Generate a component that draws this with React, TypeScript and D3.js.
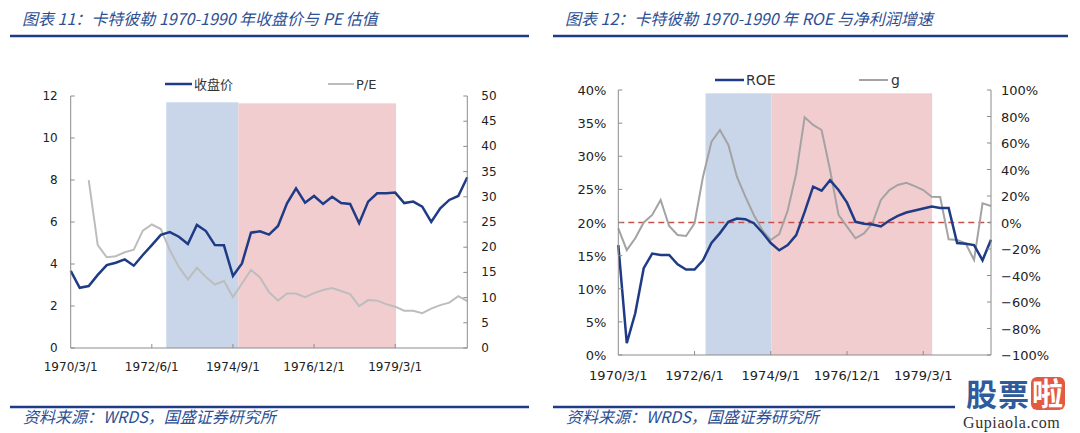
import React from 'react';
import * as d3 from 'd3';

// quarterly categories 1970/3/1 ... 1981/3/1
const quarters = d3.range(45).map(i => `${1970 + Math.floor(i / 4)}/${3 + 3 * (i % 4)}/1`);
const labelEvery = 9;

// 图表 11
const closePrice = [3.67, 2.87, 2.95, 3.48, 3.95, 4.06, 4.22, 3.92, 4.43, 4.9, 5.39, 5.52, 5.3, 4.95, 5.86, 5.57, 4.9, 4.89, 3.43, 4.03, 5.49, 5.56, 5.4, 5.81, 6.89, 7.6, 6.92, 7.24, 6.86, 7.2, 6.9, 6.86, 5.94, 6.97, 7.37, 7.37, 7.4, 6.9, 6.97, 6.73, 6.0, 6.65, 7.05, 7.24, 8.13];
const peRatio = [null, null, 33.3, 20.4, 18.0, 18.2, 19.0, 19.5, 23.3, 24.5, 23.6, 19.4, 16.1, 13.6, 15.9, 14.1, 12.6, 13.3, 10.1, 12.8, 15.5, 14.0, 11.1, 9.4, 10.8, 10.8, 10.1, 10.9, 11.5, 11.9, 11.3, 10.7, 8.3, 9.5, 9.4, 8.7, 8.2, 7.4, 7.4, 6.9, 7.8, 8.5, 9.0, 10.3, 9.3];
const priceTicks = [0, 2, 4, 6, 8, 10, 12];
const peTicks = [0, 5, 10, 15, 20, 25, 30, 35, 40, 45, 50];
// shaded periods: [from index, to index, top on left axis]
const bands1 = [
  { from: 10.6, to: 18.6, top: 11.7, color: 'blue' },
  { from: 18.6, to: 36.1, top: 11.65, color: 'pink' },
];

// 图表 12 (percent)
const roe = [16.6, 1.8, 6.3, 13.1, 15.3, 15.1, 15.1, 13.7, 12.9, 12.9, 14.3, 16.9, 18.4, 20.1, 20.6, 20.5, 19.9, 18.5, 16.9, 15.8, 16.6, 18.1, 21.6, 25.4, 24.8, 26.4, 24.9, 23.0, 20.1, 19.8, 19.7, 19.4, 20.3, 21.0, 21.5, 21.8, 22.1, 22.4, 22.2, 22.2, 16.9, 16.8, 16.6, 14.3, 17.4];
const growth = [-4.4, -20.8, -11.9, 0, 5.7, 17, -2.6, -9.4, -10.2, -0.6, 34.6, 61, 69.8, 58.5, 34.6, 19.5, 5.7, -5.7, -13.2, -8.7, 9, 37, 79.4, 73.6, 69.8, 39.6, 5.7, -3.1, -11.9, -8.2, -0.6, 17, 24.5, 28.3, 30, 27.5, 24.5, 19.5, 19.2, -12.7, -13.2, -15.7, -28.3, 14.5, 12.5];
const roeTicks = [0, 5, 10, 15, 20, 25, 30, 35, 40];
const growthTicks = [-100, -80, -60, -40, -20, 0, 20, 40, 60, 80, 100];
const roeRef = 20;
const bands2 = [
  { from: 10.3, to: 18.1, top: 39.5, color: 'blue' },
  { from: 18.1, to: 37.05, top: 39.5, color: 'pink' },
];

const NAVY = '#1f3b86';
const TITLE = '#2c4f94';
const AXIS = '#8c8c8c';
const bandFill = { blue: '#c9d6ea', pink: '#f2cdd0' };
const NUM_FONT = '"DejaVu Sans", Verdana, sans-serif';
const CJK_FONT = '"Noto Sans CJK SC", sans-serif';

function Header({ x0, x1, title }) {
  return (
    <g>
      <text x={x0 + 12} y={25} fontFamily={CJK_FONT} fontStyle="italic" fontSize={16} fill={TITLE}>{title}</text>
      <line x1={x0} x2={x1} y1={36} y2={36} stroke={NAVY} strokeWidth={2.5} />
      <line x1={x0} x2={x1} y1={407} y2={407} stroke={NAVY} strokeWidth={2.5} />
      <text x={x0 + 13} y={423} fontFamily={CJK_FONT} fontStyle="italic" fontSize={16} fill={TITLE}>资料来源：WRDS，国盛证券研究所</text>
    </g>
  );
}

function Chart1() {
  const x = d3.scaleLinear().domain([0, quarters.length - 1]).range([70.7, 467.3]);
  const yL = d3.scaleLinear().domain([0, 12]).range([348, 96]);
  const yR = d3.scaleLinear().domain([0, 50]).range([348, 96]);
  const priceLine = d3.line<number>().x((_, i) => x(i)).y(d => yL(d));
  const peLine = d3.line<number | null>().defined(d => d != null).x((_, i) => x(i)).y(d => yR(d as number));
  const fs = 12;
  return (
    <g>
      {bands1.map((b, i) => (
        <rect key={i} x={x(b.from)} y={yL(b.top)} width={x(b.to) - x(b.from)} height={yL(0) - yL(b.top)} fill={bandFill[b.color]} />
      ))}
      <path d={peLine(peRatio) || ''} fill="none" stroke="#bdbdbd" strokeWidth={2} />
      <path d={priceLine(closePrice) || ''} fill="none" stroke={NAVY} strokeWidth={2.5} />
      <g stroke={AXIS} strokeWidth={1}>
        <line x1={x(0)} x2={x(0)} y1={yL(12)} y2={yL(0)} />
        <line x1={x(44)} x2={x(44)} y1={yR(50)} y2={yR(0)} />
        <line x1={x(0)} x2={x(44)} y1={yL(0)} y2={yL(0)} />
        {priceTicks.map(t => <line key={'l' + t} x1={x(0)} x2={x(0) + 4} y1={yL(t)} y2={yL(t)} />)}
        {peTicks.map(t => <line key={'r' + t} x1={x(44) - 4} x2={x(44)} y1={yR(t)} y2={yR(t)} />)}
        {quarters.map((q, i) => i % labelEvery === 0 && i > 0 ? <line key={q} x1={x(i)} x2={x(i)} y1={yL(0)} y2={yL(0) - 4} /> : null)}
      </g>
      <g fontFamily={NUM_FONT} fontSize={fs} fill="#222">
        {priceTicks.map(t => <text key={t} x={x(0) - 13} y={yL(t) + 4} textAnchor="end">{t}</text>)}
        {peTicks.map(t => <text key={t} x={x(44) + 14} y={yR(t) + 4}>{t}</text>)}
        {quarters.map((q, i) => i % labelEvery === 0 ? <text key={q} x={x(i)} y={371} textAnchor="middle">{q}</text> : null)}
      </g>
      <g>
        <line x1={165} x2={192} y1={84} y2={84} stroke={NAVY} strokeWidth={2.5} />
        <text x={194} y={89} fontFamily={CJK_FONT} fontSize={13} fill="#333">收盘价</text>
        <line x1={328} x2={354} y1={84} y2={84} stroke="#bdbdbd" strokeWidth={2} />
        <text x={356} y={89} fontFamily={NUM_FONT} fontSize={13} fill="#333">P/E</text>
      </g>
    </g>
  );
}

function Chart2() {
  const x = d3.scaleLinear().domain([0, quarters.length - 1]).range([618.3, 991]);
  const yL = d3.scaleLinear().domain([0, 40]).range([355, 90]);
  const yR = d3.scaleLinear().domain([-100, 100]).range([355, 90]);
  const roeLine = d3.line<number>().x((_, i) => x(i)).y(d => yL(d));
  const gLine = d3.line<number>().x((_, i) => x(i)).y(d => yR(d));
  const fs = 13;
  const pct = d3.format('.0%');
  return (
    <g>
      {bands2.map((b, i) => (
        <rect key={i} x={x(b.from)} y={yL(b.top)} width={x(b.to) - x(b.from)} height={yL(0) - yL(b.top)} fill={bandFill[b.color]} />
      ))}
      <line x1={x(0)} x2={x(44)} y1={yL(roeRef)} y2={yL(roeRef)} stroke="#c8504b" strokeWidth={1.5} strokeDasharray="6,4" />
      <path d={gLine(growth) || ''} fill="none" stroke="#a3a3a3" strokeWidth={2} />
      <path d={roeLine(roe) || ''} fill="none" stroke={NAVY} strokeWidth={2.5} />
      <g stroke={AXIS} strokeWidth={1}>
        <line x1={x(0)} x2={x(0)} y1={yL(40)} y2={yL(0)} />
        <line x1={x(44)} x2={x(44)} y1={yR(100)} y2={yR(-100)} />
        <line x1={x(0)} x2={x(44)} y1={yL(0)} y2={yL(0)} />
        {roeTicks.map(t => <line key={'l' + t} x1={x(0)} x2={x(0) + 4} y1={yL(t)} y2={yL(t)} />)}
        {growthTicks.map(t => <line key={'r' + t} x1={x(44) - 4} x2={x(44)} y1={yR(t)} y2={yR(t)} />)}
        {quarters.map((q, i) => i % labelEvery === 0 && i > 0 ? <line key={q} x1={x(i)} x2={x(i)} y1={yL(0)} y2={yL(0) - 4} /> : null)}
      </g>
      <g fontFamily={NUM_FONT} fontSize={fs} fill="#222">
        {roeTicks.map(t => <text key={t} x={x(0) - 12} y={yL(t) + 5} textAnchor="end">{pct(t / 100)}</text>)}
        {growthTicks.map(t => <text key={t} x={x(44) + 10} y={yR(t) + 5}>{pct(t / 100)}</text>)}
        {quarters.map((q, i) => i % labelEvery === 0 ? <text key={q} x={x(i)} y={380} textAnchor="middle">{q}</text> : null)}
      </g>
      <g>
        <line x1={715} x2={744} y1={80} y2={80} stroke={NAVY} strokeWidth={2.5} />
        <text x={746} y={85} fontFamily={NUM_FONT} fontSize={14} fill="#333">ROE</text>
        <line x1={859} x2={888} y1={80} y2={80} stroke="#a3a3a3" strokeWidth={2} />
        <text x={891} y={85} fontFamily={NUM_FONT} fontSize={14} fill="#333">g</text>
      </g>
    </g>
  );
}

function Watermark() {
  return (
    <g>
      <rect x={955} y={378} width={125} height={55} fill="#fff" />
      <text x={966} y={406} fontFamily={CJK_FONT} fontWeight="bold" fontSize={31} fill="#2f5b9c">股</text>
      <text x={998} y={406} fontFamily={CJK_FONT} fontWeight="bold" fontSize={31} fill="#2f5b9c">票</text>
      <rect x={1031} y={377} width={34} height={33} rx={6} fill="#e25a41" />
      <text x={1032} y={405} fontFamily={CJK_FONT} fontWeight="bold" fontSize={31} fill="#fff">啦</text>
      <text x={963} y={428} fontFamily='"Liberation Serif", serif' fontSize={16} fill="#333" letterSpacing={0.6}>Gupiaola.com</text>
    </g>
  );
}

export default function App() {
  return (
    <svg width={1080} height={433} style={{ position: 'absolute', left: 0, top: 0, background: '#fff' }}>
      <rect width={1080} height={433} fill="#fff" />
      <Header x0={10} x1={529} title="图表 11：卡特彼勒 1970-1990 年收盘价与 PE 估值" />
      <Header x0={553} x1={1068} title="图表 12：卡特彼勒 1970-1990 年 ROE 与净利润增速" />
      <Chart1 />
      <Chart2 />
      <Watermark />
    </svg>
  );
}
